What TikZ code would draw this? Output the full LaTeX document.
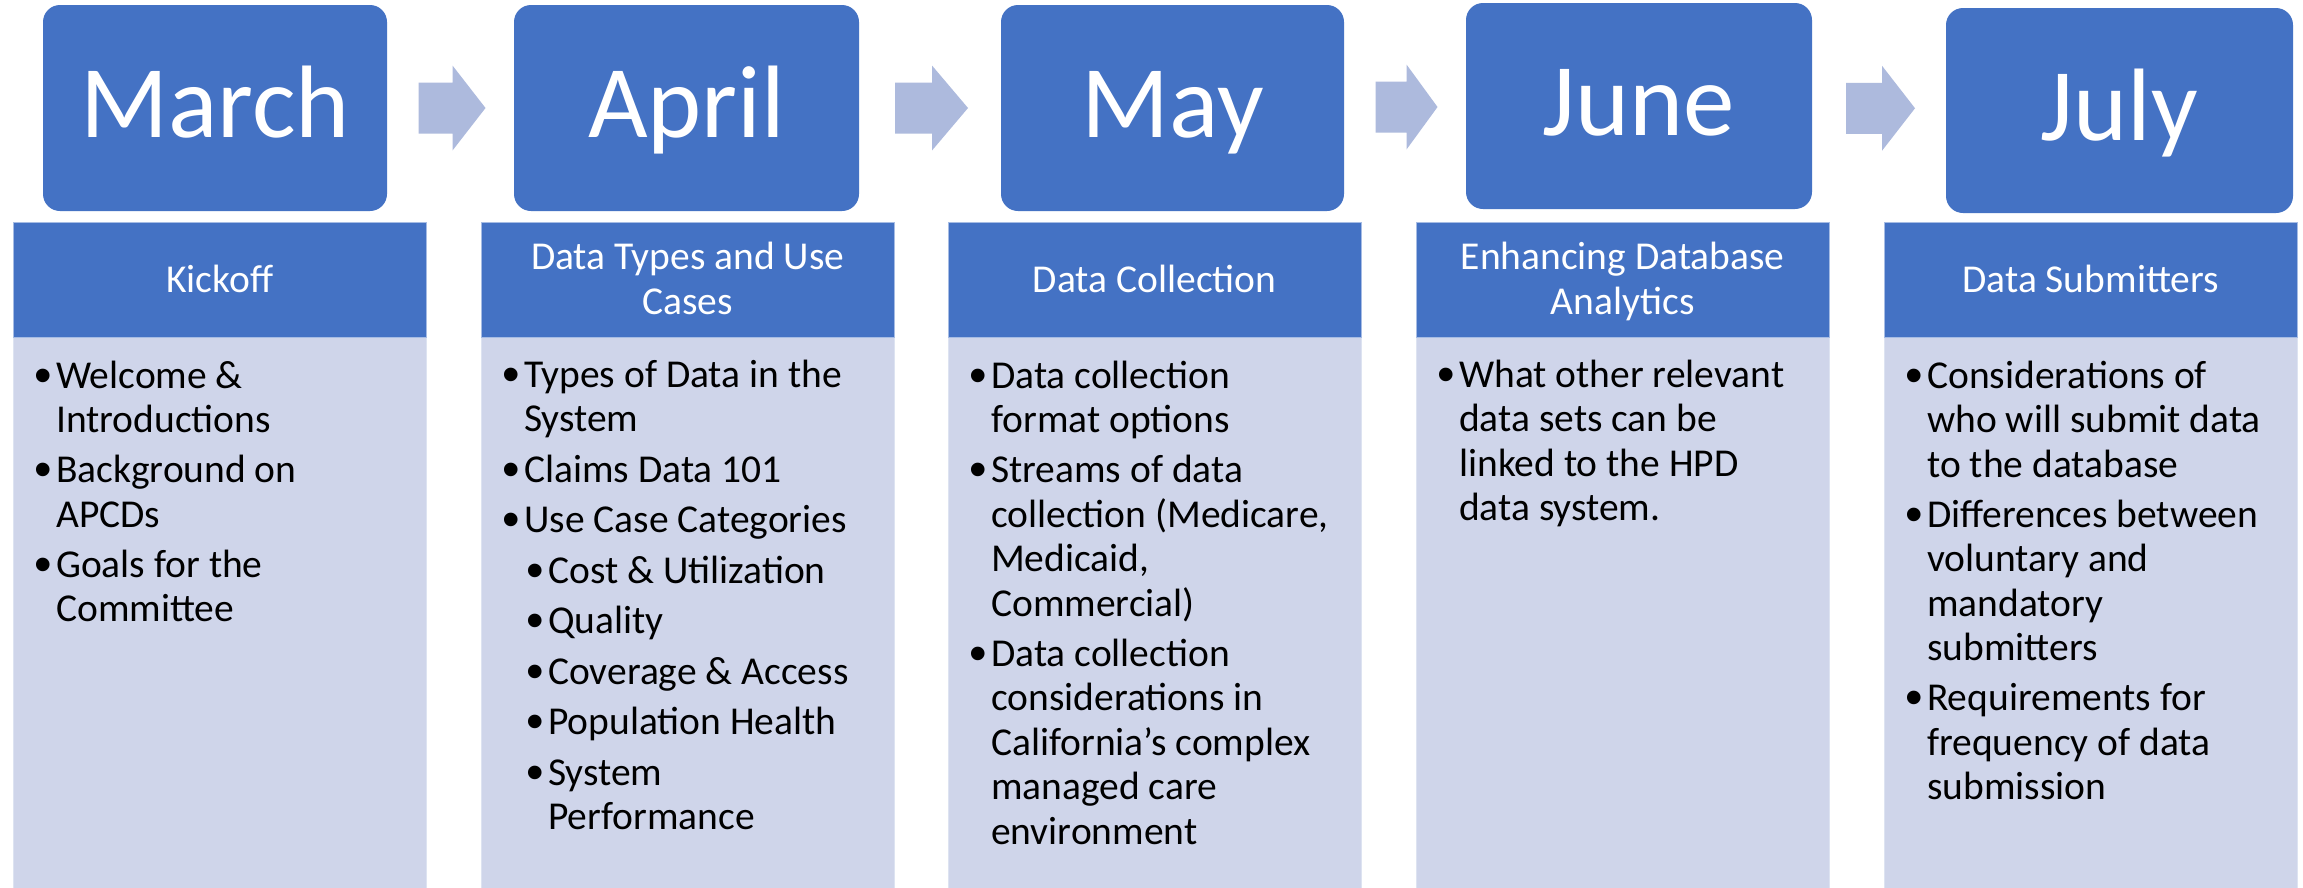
\documentclass[tikz,border=0pt]{standalone}
\usepackage{fontspec}
\setmainfont{Carlito}
\newfontfamily\bulletfont{Liberation Sans}
\usetikzlibrary{calc}

\definecolor{boxblue}{HTML}{4472C4}
\definecolor{bodyfill}{HTML}{CFD5EA}
\definecolor{arrowfill}{HTML}{ADBADD}
\definecolor{hdredge}{HTML}{A6BCE4}
\definecolor{bodyedge}{HTML}{DDE3F1}

% bullet marks for first and second level items
\newcommand\dotmark{\raisebox{-4pt}{\bulletfont\fontsize{50}{50}\selectfont\char"2022}}
\newcommand\bul[1]{\par\noindent\hangindent=22pt\hangafter=1\makebox[22pt][l]{\dotmark}#1\par}
\newcommand\subbul[1]{\par\noindent\hangindent=46pt\hangafter=1\hspace*{24pt}\makebox[22pt][l]{\dotmark}#1\par}

\tikzset{
  monthbox/.style={fill=boxblue, draw=none, rounded corners=17pt, inner sep=0pt},
  monthlabel/.style={anchor=base, inner sep=0pt, text=white, font=\fontsize{103}{110}\selectfont},
  hdrbox/.style={fill=boxblue, draw=hdredge, line width=1pt, anchor=north west,
    minimum width=413pt, minimum height=115pt, inner sep=0pt},
  hdrlabel/.style={anchor=base west, inner sep=0pt, text=white, font=\fontsize{39.5}{45}\selectfont},
  bodybox/.style={fill=bodyfill, draw=bodyedge, line width=1pt, anchor=north west,
    minimum width=413pt, minimum height=551pt, inner sep=0pt},
  bodytext/.style={anchor=base west, inner sep=0pt, text=black, font=\fontsize{39.5}{44.5}\selectfont},
  arrowshape/.style={fill=arrowfill, draw=none}
}

% block arrow centred between two month boxes: #1 name, #2 from, #3 to, #4 length, #5 head length
\newcommand\blockarrow[5]{%
  \coordinate (#1) at ($(#2.east)!0.5!(#3.west)+(1.5,0)$);
  \fill[arrowshape] ($(#1)+({-#4/2},-25.5)$) -- ($(#1)+({#4/2-#5},-25.5)$)
    -- ($(#1)+({#4/2-#5},-42.5)$) -- ($(#1)+({#4/2},0)$)
    -- ($(#1)+({#4/2-#5},42.5)$) -- ($(#1)+({#4/2-#5},25.5)$)
    -- ($(#1)+({-#4/2},25.5)$) -- cycle;
}

\begin{document}
\begin{tikzpicture}[x=1pt, y=-1pt]
\useasboundingbox (0,0) rectangle (2303,887);
\fill[white] (0,0) rectangle (2303,887);

% month boxes
\node[monthbox, minimum width=344pt, minimum height=206pt] (m1) at (215,108) {};
\node[monthbox, minimum width=345pt, minimum height=206pt] (m2) at (686.5,108) {};
\node[monthbox, minimum width=343pt, minimum height=206pt] (m3) at (1172.5,108) {};
\node[monthbox, minimum width=346pt, minimum height=206pt] (m4) at (1639,106) {};
\node[monthbox, minimum width=347pt, minimum height=205pt] (m5) at (2119.5,110.5) {};

\node[monthlabel] (l1) at (215,137) {March};
\node[monthlabel] (l2) at (686.5,137) {April};
\node[monthlabel] (l3) at (1172.5,137) {May};
\node[monthlabel] (l4) at (1639,135) {June};
\node[monthlabel] (l5) at (2119.5,140) {July};

% arrows between months
\blockarrow{a1}{m1}{m2}{67}{33}
\blockarrow{a2}{m2}{m3}{73}{36}
\blockarrow{a3}{m3}{m4}{62}{31}
\blockarrow{a4}{m4}{m5}{69}{33}

% topic headers and bodies
\foreach \i/\x in {1/13, 2/481, 3/948, 4/1416, 5/1884} {
  \node[bodybox] (b\i) at (\x,337) {};
  \node[hdrbox] (h\i) at (\x,222) {};
}

\node[hdrlabel] (ht1) at (13,292) {\begin{minipage}[t]{413pt}\centering Kickoff\end{minipage}};
\node[hdrlabel] (ht2) at (481,269) {\begin{minipage}[t]{413pt}\centering Data Types and Use\\Cases\end{minipage}};
\node[hdrlabel] (ht3) at (948,292) {\begin{minipage}[t]{413pt}\centering Data Collection\end{minipage}};
\node[hdrlabel] (ht4) at (1416,269) {\begin{minipage}[t]{413pt}\centering Enhancing Database\\Analytics\end{minipage}};
\node[hdrlabel] (ht5) at (1884,292) {\begin{minipage}[t]{413pt}\centering Data Submitters\end{minipage}};

% bullet lists
\node[bodytext] (t1) at (34,388) {\begin{minipage}[t]{390pt}\parskip=5.5pt
\bul{Welcome \&\\Introductions}
\bul{Background on\\APCDs}
\bul{Goals for the\\Committee}
\end{minipage}};

\node[bodytext] (t2) at (502,387) {\begin{minipage}[t]{390pt}\parskip=6pt
\bul{Types of Data in the\\System}
\bul{Claims Data 101}
\bul{Use Case Categories}
\subbul{Cost \& Utilization}
\subbul{Quality}
\subbul{Coverage \& Access}
\subbul{Population Health}
\subbul{System\\Performance}
\end{minipage}};

\node[bodytext] (t3) at (969,388) {\begin{minipage}[t]{390pt}\parskip=5.5pt
\bul{Data collection\\format options}
\bul{Streams of data\\collection (Medicare,\\Medicaid,\\Commercial)}
\bul{Data collection\\considerations in\\California’s complex\\managed care\\environment}
\end{minipage}};

\node[bodytext] (t4) at (1437,387) {\begin{minipage}[t]{390pt}\parskip=5.5pt
\bul{What other relevant\\data sets can be\\linked to the HPD\\data system.}
\end{minipage}};

\node[bodytext] (t5) at (1905,388) {\begin{minipage}[t]{390pt}\parskip=5.5pt
\bul{Considerations of\\who will submit data\\to the database}
\bul{Differences between\\voluntary and\\mandatory\\submitters}
\bul{Requirements for\\frequency of data\\submission}
\end{minipage}};
\end{tikzpicture}
\end{document}
